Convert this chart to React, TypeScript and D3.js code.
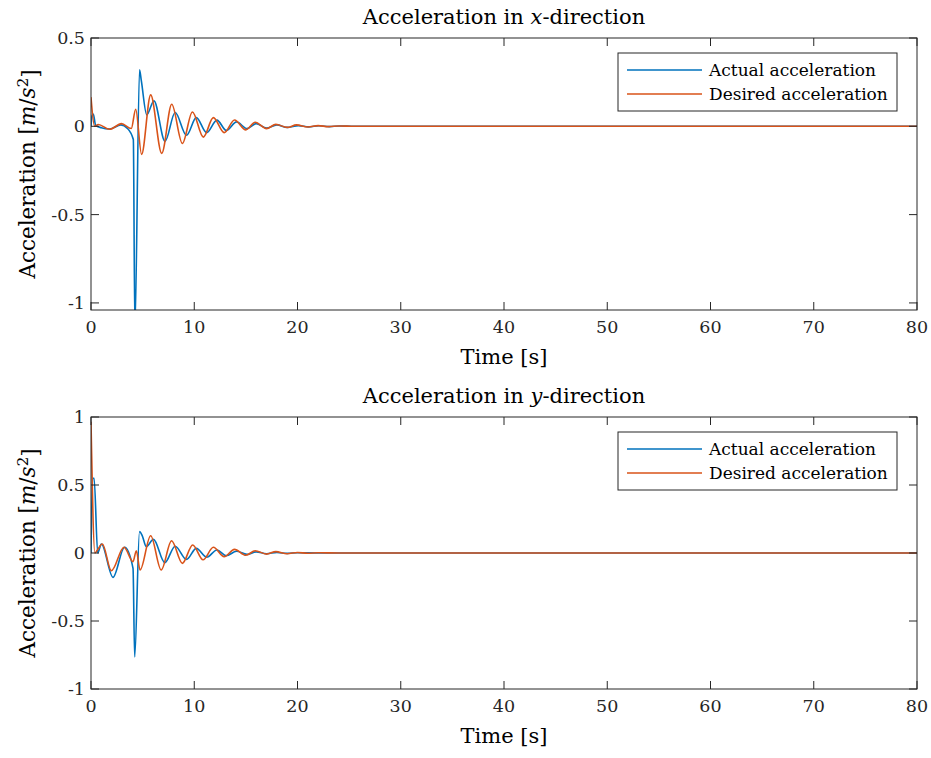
import React from 'react';
import * as d3 from 'd3';

// time axis (seconds)
const timeTicks = [0, 10, 20, 30, 40, 50, 60, 70, 80];
const xDirTicks = [-1, -0.5, 0, 0.5];
const yDirTicks = [-1, -0.5, 0, 0.5, 1];
const legendLabels = ['Actual acceleration', 'Desired acceleration'];
const seriesColors = ['#0072BD', '#D95319'];

// [t, a] pairs (peaks / troughs / corners)
const xActual: [number, number][] = [
  [0, 0], [0.1, 0.06], [0.22, 0.07], [0.45, 0.005], [1.0, -0.008], [1.8, -0.015],
  [2.9, 0.008], [3.5, -0.01], [4.1, -0.075], [4.25, -1.15], [4.7, 0.32], [4.87, 0.26],
  [5.4, 0.065], [6.1, 0.144], [7.17, -0.085], [8.15, 0.078], [9.25, -0.051], [10.2, 0.049],
  [11.2, -0.036], [12.2, 0.035], [13.1, -0.023], [14.1, 0.025], [15.1, -0.013], [16.0, 0.015],
  [17.0, -0.01], [18.0, 0.008], [19.0, -0.006], [20.1, 0.004], [21.1, -0.003], [22.1, 0.003],
  [23.1, -0.002], [24.1, 0.002], [25.5, 0], [80, 0],
];
const xDesired: [number, number][] = [
  [0, 0.165], [0.35, 0.0], [0.7, 0.01], [1.8, -0.017], [2.95, 0.015], [3.9, -0.012],
  [4.33, 0.097], [4.9, -0.159], [5.78, 0.178], [6.85, -0.153], [7.82, 0.125], [8.85, -0.097],
  [9.82, 0.081], [10.88, -0.061], [11.85, 0.049], [12.9, -0.036], [13.9, 0.036], [15.0, -0.02],
  [15.9, 0.023], [17.0, -0.013], [17.9, 0.011], [19.0, -0.006], [19.9, 0.008], [21.0, -0.004],
  [22.0, 0.004], [23.0, -0.002], [24.0, 0.002], [25.5, 0], [80, 0],
];
const yActual: [number, number][] = [
  [0, 0], [0.15, 0.55], [0.3, 0.55], [0.65, 0.0], [1.0, 0.066], [2.13, -0.179], [3.25, 0.042],
  [4.07, -0.113], [4.23, -0.765], [4.7, 0.157], [4.95, 0.13], [5.35, 0.047], [6.05, 0.1],
  [7.15, -0.071], [8.15, 0.05], [9.25, -0.047], [10.2, 0.034], [11.2, -0.031], [12.2, 0.022],
  [13.1, -0.02], [14.1, 0.013], [15.1, -0.01], [16.0, 0.008], [17.0, -0.005], [18.0, 0.004],
  [19.0, -0.003], [20.0, 0.002], [22.0, 0], [80, 0],
];
const yDesired: [number, number][] = [
  [0, 0.965], [0.38, 0.0], [0.6, 0.02], [1.1, 0.066], [1.97, -0.13], [3.2, 0.042], [4.07, -0.064],
  [4.39, 0.017], [4.75, -0.125], [5.78, 0.127], [6.8, -0.125], [7.8, 0.09], [8.85, -0.076],
  [9.85, 0.059], [10.85, -0.05], [11.85, 0.042], [12.9, -0.027], [13.9, 0.027], [15.0, -0.017],
  [15.9, 0.017], [17.0, -0.008], [17.9, 0.01], [19.0, -0.005], [20.0, 0.004], [21.0, -0.002],
  [22.0, 0.002], [24.0, 0], [80, 0],
];

const font = "'DejaVu Serif', serif";
const axisColor = '#262626';
const left = 91;
const right = 917;
const tickLen = 8;

type PanelProps = {
  id: string;
  top: number;
  bottom: number;
  yDomain: [number, number];
  yTicks: number[];
  actual: [number, number][];
  desired: [number, number][];
  dir: string;
};

const Panel = ({ id, top, bottom, yDomain, yTicks, actual, desired, dir }: PanelProps) => {
  const x = d3.scaleLinear().domain([0, 80]).range([left, right]);
  const y = d3.scaleLinear().domain(yDomain).range([bottom, top]);
  const line = d3
    .line<[number, number]>()
    .x((d) => x(d[0]))
    .y((d) => y(d[1]))
    .curve(d3.curveMonotoneX);
  const midX = (left + right) / 2;
  const midY = (top + bottom) / 2;
  const lg = { x: 618, y: top + 15, w: 279, h: 58 };

  return (
    <g>
      <defs>
        <clipPath id={id}>
          <rect x={left} y={top} width={right - left} height={bottom - top} />
        </clipPath>
      </defs>
      <rect x={left} y={top} width={right - left} height={bottom - top} fill="#fff" />

      <g clipPath={`url(#${id})`}>
        {[actual, desired].map((s, i) => (
          <path key={i} d={line(s) || ''} fill="none" stroke={seriesColors[i]} strokeWidth={1.6} />
        ))}
      </g>

      {/* box + ticks on all sides */}
      <rect x={left} y={top} width={right - left} height={bottom - top} fill="none" stroke={axisColor} strokeWidth={1} />
      {timeTicks.map((t) => (
        <g key={'xt' + t}>
          <line x1={x(t)} x2={x(t)} y1={bottom} y2={bottom - tickLen} stroke={axisColor} />
          <line x1={x(t)} x2={x(t)} y1={top} y2={top + tickLen} stroke={axisColor} />
          <text x={x(t)} y={bottom + 23} textAnchor="middle" fontSize={17.5} fontFamily={font} fill="#262626">
            {t}
          </text>
        </g>
      ))}
      {yTicks.map((v) => (
        <g key={'yt' + v}>
          <line x1={left} x2={left + tickLen} y1={y(v)} y2={y(v)} stroke={axisColor} />
          <line x1={right} x2={right - tickLen} y1={y(v)} y2={y(v)} stroke={axisColor} />
          <text x={left - 6} y={y(v)} dy="0.35em" textAnchor="end" fontSize={17.5} fontFamily={font} fill="#262626">
            {String(v)}
          </text>
        </g>
      ))}

      <text x={midX} y={top - 14} textAnchor="middle" fontSize={21} fontFamily={font} fill="#000">
        Acceleration in <tspan fontStyle="italic">{dir}</tspan>-direction
      </text>
      <text x={midX} y={bottom + 54} textAnchor="middle" fontSize={21} fontFamily={font} fill="#000">
        Time [s]
      </text>
      <text
        transform={`translate(35, ${midY}) rotate(-90)`}
        textAnchor="middle"
        fontSize={21.5}
        fontFamily={font}
        fill="#000"
      >
        Acceleration [<tspan fontStyle="italic">m</tspan>/<tspan fontStyle="italic">s</tspan>
        <tspan dy="-0.45em" fontSize={15}>2</tspan>
        <tspan dy="0.45em">]</tspan>
      </text>

      {/* legend */}
      <rect x={lg.x} y={lg.y} width={lg.w} height={lg.h} fill="#fff" stroke={axisColor} strokeWidth={1} />
      {legendLabels.map((label, i) => (
        <g key={label}>
          <line
            x1={lg.x + 9}
            x2={lg.x + 84}
            y1={lg.y + 17 + i * 24}
            y2={lg.y + 17 + i * 24}
            stroke={seriesColors[i]}
            strokeWidth={1.6}
          />
          <text x={lg.x + 91} y={lg.y + 17 + i * 24} dy="0.35em" fontSize={17} fontFamily={font} fill="#000">
            {label}
          </text>
        </g>
      ))}
    </g>
  );
};

export default function App() {
  return (
    <svg
      width={931}
      height={758}
      style={{ position: 'absolute', left: 0, top: 0, background: '#fff' }}
    >
      <rect width={931} height={758} fill="#fff" />
      <Panel id="clip-x" top={38} bottom={310} yDomain={[-1.04, 0.5]} yTicks={xDirTicks} actual={xActual} desired={xDesired} dir="x" />
      <Panel id="clip-y" top={417} bottom={689} yDomain={[-1, 1]} yTicks={yDirTicks} actual={yActual} desired={yDesired} dir="y" />
    </svg>
  );
}
